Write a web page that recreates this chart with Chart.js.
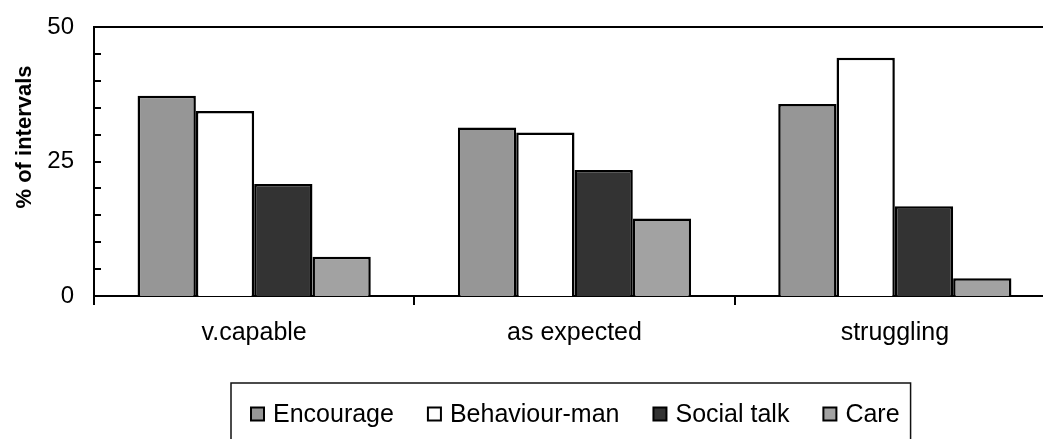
<!DOCTYPE html>
<html>
<head>
<meta charset="utf-8">
<script src="https://cdn.jsdelivr.net/npm/chart.js@4/dist/chart.umd.min.js"></script>
<style>
  html, body { margin: 0; padding: 0; background: #fff; overflow: hidden; }
  #wrap { width: 1043px; height: 439px; overflow: hidden; }
  canvas { display: block; }
</style>
</head>
<body>
<div id="wrap"><canvas id="chart" width="1060" height="439"></canvas></div>
<script>
// Data
const categories = ['v.capable', 'as expected', 'struggling'];
const seriesNames = ['Encourage', 'Behaviour-man', 'Social talk', 'Care'];
const encourage = [37.2, 31.3, 35.7];
const behaviourMan = [34.4, 30.4, 44.3];
const socialTalk = [20.8, 23.4, 16.7];
const care = [7.3, 14.4, 3.3];
const yLabels = [0, 25, 50];

const fills = ['#969696', '#ffffff', '#333333', '#a2a2a2'];
const FONT = "'Liberation Sans', Arial, sans-serif";

const seriesValues = [encourage, behaviourMan, socialTalk, care];

// Frame, inward minor ticks, y title and boxed legend
const decorations = {
    id: 'decorations',
    afterDraw(chart) {
        const ctx = chart.ctx;
        const area = chart.chartArea;
        const y = chart.scales.y;
        ctx.save();
        ctx.strokeStyle = '#000';
        ctx.lineWidth = 2;

        // top edge of plot
        ctx.beginPath();
        ctx.moveTo(area.left - 1, area.top);
        ctx.lineTo(area.right, area.top);
        ctx.stroke();

        // minor ticks pointing into the plot
        for (let v = 5; v < 50; v += 5) {
            const py = Math.round(y.getPixelForValue(v));
            ctx.beginPath();
            ctx.moveTo(area.left, py);
            ctx.lineTo(area.left + 7, py);
            ctx.stroke();
        }

        // y axis title
        ctx.fillStyle = '#000';
        ctx.font = 'bold 22px ' + FONT;
        ctx.textAlign = 'center';
        ctx.textBaseline = 'middle';
        ctx.translate(25, 137);
        ctx.rotate(-Math.PI / 2);
        ctx.fillText('% of intervals', 0, 0);
        ctx.setTransform(1, 0, 0, 1, 0, 0);

        // legend
        const boxLeft = 231, boxTop = 383;
        ctx.font = '25px ' + FONT;
        ctx.textAlign = 'left';
        let x = boxLeft + 20;
        const midY = 414;
        chart.data.datasets.forEach((ds, i) => {
            ctx.fillStyle = ds.backgroundColor;
            ctx.fillRect(x, midY - 6.5, 13, 13);
            ctx.lineWidth = 2;
            ctx.strokeStyle = '#000';
            ctx.strokeRect(x, midY - 6.5, 13, 13);
            ctx.fillStyle = '#000';
            ctx.fillText(ds.label, x + 22, midY + 1);
            x += 22 + ctx.measureText(ds.label).width + 34;
        });
        const boxRight = x - 34 + 11;
        ctx.lineWidth = 1.5;
        ctx.strokeStyle = '#111';
        ctx.strokeRect(boxLeft, boxTop, boxRight - boxLeft, 80);
        ctx.restore();
    }
};

const ctx = document.getElementById('chart').getContext('2d');
new Chart(ctx, {
    type: 'bar',
    data: {
        labels: categories,
        datasets: seriesNames.map((name, i) => ({
            label: name,
            data: seriesValues[i],
            backgroundColor: fills[i],
            borderColor: '#000',
            borderWidth: 2.5,
            borderSkipped: 'bottom',
            categoryPercentage: 0.728,
            barPercentage: 1
        }))
    },
    options: {
        responsive: false,
        animation: false,
        layout: { padding: { top: 27, right: 5, bottom: 0, left: 0 } },
        plugins: { legend: { display: false }, tooltip: { enabled: false } },
        scales: {
            x: {
                grid: { display: true, drawOnChartArea: false, drawTicks: true, tickLength: 9, offset: true, color: '#000', lineWidth: 2 },
                border: { display: true, color: '#000', width: 2 },
                ticks: { color: '#000', font: { family: FONT, size: 25 }, padding: 13, maxRotation: 0 },
                afterFit(scale) { scale.height = 143; scale.paddingTop = 0; scale.paddingBottom = 0; }
            },
            y: {
                min: 0, max: 50,
                grid: { display: false, drawTicks: false },
                border: { display: true, color: '#000', width: 2 },
                ticks: {
                    stepSize: 25,
                    color: '#000',
                    font: { family: FONT, size: 24 },
                    padding: 20,
                    callback: v => yLabels.includes(v) ? String(v) : ''
                },
                afterFit(scale) { scale.width = 94; scale.paddingTop = 0; scale.paddingBottom = 0; }
            }
        }
    },
    plugins: [decorations]
});
</script>
</body>
</html>
